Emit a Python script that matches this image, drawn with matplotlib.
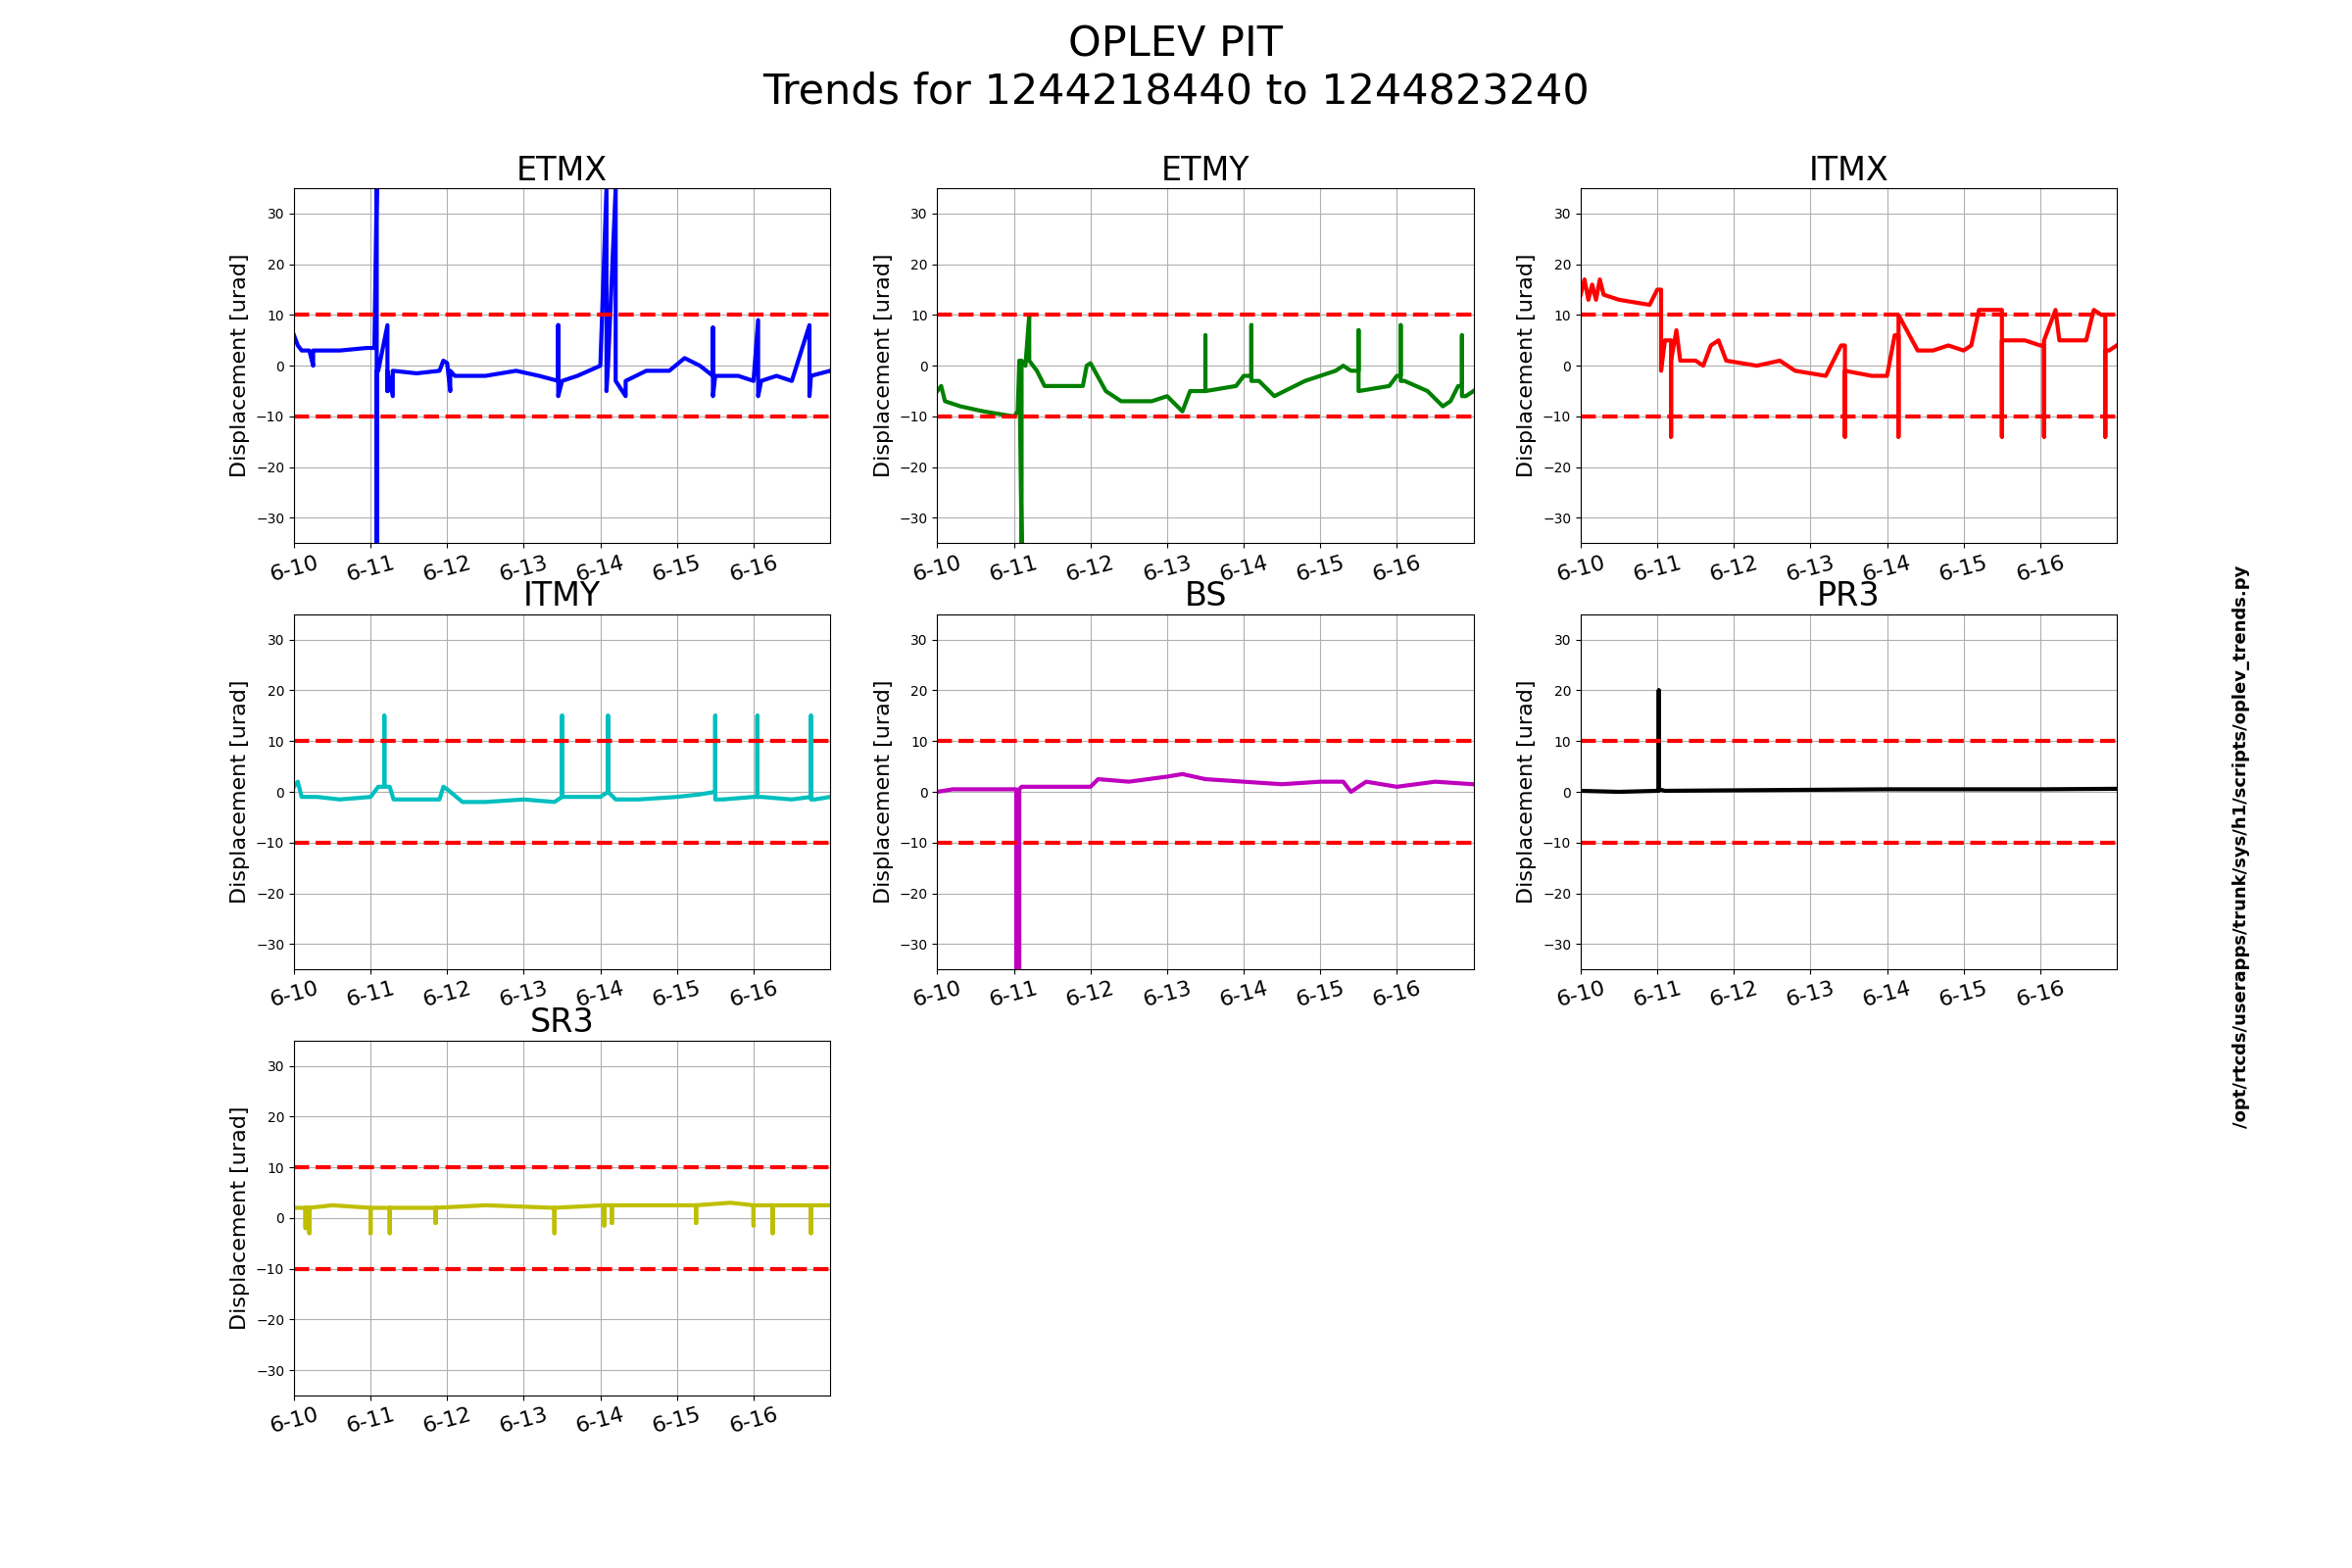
import matplotlib
matplotlib.use("Agg")
import matplotlib.pyplot as plt

day_labels = ['6-10', '6-11', '6-12', '6-13', '6-14', '6-15', '6-16']

# (day, urad) knot points; spikes use repeated days
etmx = [(0, 6), (0.05, 4), (0.1, 3), (0.2, 3), (0.25, 0), (0.25, 3), (0.3, 3), (0.6, 3), (0.95, 3.5), (1.05, 3.5),
        (1.08, 35), (1.08, -35), (1.08, -1), (1.1, -1), (1.22, 8), (1.22, -5), (1.22, -1), (1.29, -6), (1.29, -1),
        (1.6, -1.5), (1.9, -1), (1.95, 1), (2.0, 0.5), (2.04, -5), (2.04, -1), (2.1, -2), (2.5, -2), (2.9, -1),
        (3.2, -2), (3.45, -3), (3.45, 8), (3.45, -6), (3.5, -3), (3.7, -2), (4.0, 0), (4.08, 35), (4.08, -5),
        (4.1, 0), (4.2, 35), (4.2, -3), (4.33, -6), (4.33, -3), (4.6, -1), (4.9, -1), (5.1, 1.5), (5.3, 0),
        (5.47, -2), (5.47, 7.5), (5.47, -6), (5.5, -2), (5.8, -2), (6.0, -3), (6.06, 9), (6.06, -6), (6.1, -3),
        (6.3, -2), (6.5, -3), (6.73, 8), (6.73, -6), (6.75, -2), (7.0, -1)]

etmy = [(0, -5), (0.05, -4), (0.1, -7), (0.3, -8), (0.6, -9), (1.0, -10), (1.05, -9), (1.07, 1), (1.1, -35),
        (1.1, 1), (1.15, 0), (1.2, 10), (1.2, 1), (1.3, -1), (1.4, -4), (1.9, -4), (1.95, 0), (2.0, 0.5),
        (2.2, -5), (2.4, -7), (2.8, -7), (3.0, -6), (3.2, -9), (3.3, -5), (3.5, -5), (3.5, 6), (3.5, -5),
        (3.9, -4), (4.0, -2), (4.1, -2), (4.1, 8), (4.1, -3), (4.2, -3), (4.4, -6), (4.8, -3), (5.2, -1),
        (5.3, 0), (5.4, -1), (5.5, -1), (5.5, 7), (5.5, -5), (5.9, -4), (6.0, -2), (6.05, -2), (6.05, 8),
        (6.05, -3), (6.1, -3), (6.4, -5), (6.6, -8), (6.7, -7), (6.8, -4), (6.85, -4), (6.85, 6), (6.85, -6),
        (6.9, -6), (7.0, -5)]

itmx = [(0, 14), (0.05, 17), (0.1, 13), (0.15, 16), (0.2, 13), (0.25, 17), (0.3, 14), (0.5, 13), (0.9, 12),
        (1.0, 15), (1.05, 15), (1.05, -1), (1.1, 5), (1.18, 5), (1.18, -14), (1.18, 1), (1.25, 7), (1.3, 1),
        (1.5, 1), (1.6, 0), (1.7, 4), (1.8, 5), (1.9, 1), (2.3, 0), (2.6, 1), (2.8, -1), (3.2, -2), (3.3, 1),
        (3.4, 4), (3.45, 4), (3.45, -14), (3.45, -1), (3.8, -2), (4.0, -2), (4.1, 6), (4.15, 6), (4.15, -14),
        (4.15, 10), (4.4, 3), (4.6, 3), (4.8, 4), (5.0, 3), (5.1, 4), (5.2, 11), (5.4, 11), (5.5, 11),
        (5.5, -14), (5.5, 5), (5.8, 5), (6.0, 4), (6.05, 4), (6.05, -14), (6.05, 5), (6.2, 11), (6.25, 5),
        (6.4, 5), (6.6, 5), (6.7, 11), (6.8, 10), (6.85, 10), (6.85, -14), (6.85, 3), (6.9, 3), (7.0, 4)]

itmy = [(0, 1), (0.05, 2), (0.1, -1), (0.3, -1), (0.6, -1.5), (1.0, -1), (1.1, 1), (1.18, 1), (1.18, 15),
        (1.18, 1), (1.25, 1), (1.3, -1.5), (1.9, -1.5), (1.95, 1), (2.0, 0.5), (2.2, -2), (2.5, -2), (3.0, -1.5),
        (3.4, -2), (3.5, -1), (3.5, 15), (3.5, -1), (3.6, -1), (4.0, -1), (4.1, 0), (4.1, 15), (4.1, 0),
        (4.2, -1.5), (4.5, -1.5), (5.0, -1), (5.3, -0.5), (5.5, 0), (5.5, 15), (5.5, -1.5), (5.6, -1.5),
        (6.0, -1), (6.05, -1), (6.05, 15), (6.05, -1), (6.1, -1), (6.5, -1.5), (6.75, -1), (6.75, 15),
        (6.75, -1.5), (6.8, -1.5), (7.0, -1)]

bs = [(0, 0), (0.2, 0.5), (0.5, 0.5), (0.9, 0.5), (1.03, 0.5), (1.03, -35), (1.07, -35), (1.07, 0.5),
      (1.1, 1), (1.5, 1), (2.0, 1), (2.1, 2.5), (2.5, 2), (3.0, 3), (3.2, 3.5), (3.5, 2.5), (4.0, 2),
      (4.5, 1.5), (5.0, 2), (5.3, 2), (5.4, 0), (5.6, 2), (6.0, 1), (6.5, 2), (7.0, 1.5)]

pr3 = [(0, 0.2), (0.5, 0), (1.0, 0.2), (1.02, 0.2), (1.02, 20), (1.02, 0.5), (1.1, 0.2), (2.0, 0.3),
       (3.0, 0.4), (4.0, 0.5), (5.0, 0.5), (6.0, 0.5), (7.0, 0.6)]

sr3 = [(0, 2), (0.15, 2), (0.15, -2), (0.15, 2), (0.2, 2), (0.2, -3), (0.2, 2), (0.5, 2.5), (1.0, 2),
       (1.0, -3), (1.0, 2), (1.25, 2), (1.25, -3), (1.25, 2), (1.5, 2), (1.85, 2), (1.85, -1), (1.85, 2),
       (2.5, 2.5), (3.4, 2), (3.4, -3), (3.4, 2), (4.05, 2.5), (4.05, -1.5), (4.05, 2.5), (4.15, 2.5),
       (4.15, -1), (4.15, 2.5), (4.5, 2.5), (5.25, 2.5), (5.25, -1), (5.25, 2.5), (5.7, 3), (6.0, 2.5),
       (6.0, -1.5), (6.0, 2.5), (6.25, 2.5), (6.25, -3), (6.25, 2.5), (6.75, 2.5), (6.75, -3), (6.75, 2.5),
       (7.0, 2.5)]

panels = [('ETMX', etmx, 'b'), ('ETMY', etmy, 'g'), ('ITMX', itmx, 'r'),
          ('ITMY', itmy, 'c'), ('BS', bs, 'm'), ('PR3', pr3, 'k'), ('SR3', sr3, 'y')]

fig = plt.figure(figsize=(24, 16), dpi=100)
for i, (name, pts, c) in enumerate(panels):
    t, v = zip(*pts)
    ax = fig.add_subplot(3, 3, i + 1)
    ax.plot(t, v, c=c, lw=3)
    ax.axhline(10, c='r', ls='--', lw=3)
    ax.axhline(-10, c='r', ls='--', lw=3)
    ax.set_xlim(0, 7)
    ax.set_ylim(-35, 35)
    ax.set_xticks(range(7))
    ax.set_xticklabels(day_labels, rotation=15, fontsize=16)
    ax.set_yticks([-30, -20, -10, 0, 10, 20, 30])
    ax.grid(True)
    ax.set_title(name, fontsize=24)
    ax.set_ylabel('Displacement [urad]', fontsize=16)

fig.suptitle('OPLEV PIT\nTrends for 1244218440 to 1244823240', fontsize=31, y=0.985)
fig.text(0.953, 0.46, '/opt/rtcds/userapps/trunk/sys/h1/scripts/oplev_trends.py',
         rotation=90, va='center', ha='center', fontsize=13, fontweight='bold')
fig.savefig('out.png')
